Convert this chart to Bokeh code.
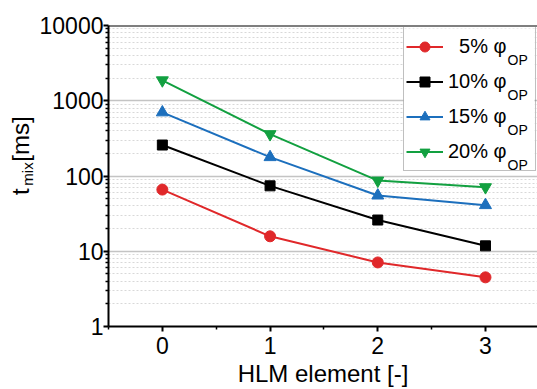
import math
from bokeh.plotting import figure
from bokeh.layouts import row
from bokeh.models import (FixedTicker, Legend, LegendItem, Label, Span, BoxAnnotation)
from bokeh.embed import file_html
from bokeh.resources import INLINE

# HLM element index
elements = [0, 1, 2, 3]

# mixing time t_mix [ms] per overpressure fraction
t_5 = [66, 15.8, 7.1, 4.5]
t_10 = [258, 74, 26, 11.8]
t_15 = [700, 178, 55, 41]
t_20 = [1870, 360, 87, 71]

series_labels = ["\u20075% \u03c6", "10% \u03c6", "15% \u03c6", "20% \u03c6"]
y_major = [1, 10, 100, 1000, 10000]
y_major_labels = ["1", "10", "100", "1000", "10000"]

FONT = "Liberation Sans"
W, H = 537, 389
TITLE_W = 36          # narrow strip holding the rotated y title
FRAME_LEFT = 108      # frame left edge on the page
FRAME_TOP, FRAME_BOTTOM = 25, 327

# ---- y title strip -------------------------------------------------------
yt = figure(width=TITLE_W, height=H, x_range=(0, TITLE_W), y_range=(0, H),
            output_backend="svg", toolbar_location=None,
            x_axis_location=None, y_axis_location=None,
            min_border=0)
yt.outline_line_color = None
yt.grid.visible = False
title_parts = [("t", 24, 20, 219), ("mix", 15, 27, 207), ("[ms]", 24, 20, 176)]
for txt, fs, bx, by in title_parts:
    yt.add_layout(Label(x=bx, y=H - by, text=txt, angle=math.pi / 2,
                        text_font=FONT, text_font_size=f"{fs}px",
                        text_color="black", text_baseline="alphabetic",
                        text_align="left"))

# ---- main plot -----------------------------------------------------------
p = figure(width=W - TITLE_W, height=H, y_axis_type="log",
           x_range=(-0.5, 3.483), y_range=(1, 10000),
           output_backend="svg", toolbar_location=None,
           min_border_left=FRAME_LEFT - TITLE_W, min_border_right=0,
           min_border_top=FRAME_TOP, min_border_bottom=H - FRAME_BOTTOM)
p.outline_line_color = None
p.background_fill_color = "white"

minor_y = [m * 10 ** k for k in range(4) for m in range(2, 10)]
p.yaxis.ticker = FixedTicker(ticks=y_major, minor_ticks=minor_y)
p.yaxis.major_label_overrides = {v: s for v, s in zip(y_major, y_major_labels)}
p.xaxis.ticker = FixedTicker(ticks=elements, minor_ticks=[-0.5, 0.5, 1.5, 2.5, 3.5])

for ax in (p.xaxis[0], p.yaxis[0]):
    ax.axis_line_width = 2
    ax.axis_line_color = "black"
    ax.major_tick_line_color = "black"
    ax.major_tick_line_width = 2
    ax.major_tick_out = 5
    ax.major_tick_in = 0
    ax.minor_tick_line_color = "black"
    ax.minor_tick_line_width = 1.5
    ax.minor_tick_out = 3
    ax.minor_tick_in = 0
    ax.major_label_text_font = FONT
    ax.major_label_text_font_size = "23px"
    ax.major_label_text_color = "black"

p.yaxis.major_label_standoff = 0
p.xaxis.major_label_standoff = 5
p.xaxis.axis_label = "HLM element [-]"
p.xaxis.axis_label_text_font = FONT
p.xaxis.axis_label_text_font_size = "24px"
p.xaxis.axis_label_text_font_style = "normal"
p.xaxis.axis_label_text_color = "black"
p.xaxis.axis_label_standoff = 3

# grids
p.xgrid.grid_line_color = None
p.ygrid.ticker = FixedTicker(ticks=[10, 100, 1000], minor_ticks=minor_y)
p.ygrid.grid_line_color = "#c4c4c4"
p.ygrid.grid_line_width = 1.5
p.ygrid.minor_grid_line_color = "#d8d8d8"
p.ygrid.minor_grid_line_dash = "2 2"
p.ygrid.minor_grid_line_width = 1

# top frame line
p.add_layout(Span(location=10000, dimension="width", line_color="black", line_width=2))

# legend box geometry (frame-relative screen units)
LEG_X, LEG_Y = 295, 155
LEG_W, LEG_H = 131, 143
# white panel behind the legend, drawn over the grid
p.add_layout(BoxAnnotation(left=LEG_X, right=LEG_X + LEG_W,
                           bottom=LEG_Y, top=LEG_Y + LEG_H,
                           left_units="screen", right_units="screen",
                           bottom_units="screen", top_units="screen",
                           fill_color="white", fill_alpha=1, line_color=None,
                           level="underlay"))

styles = [
    (t_5, "#e0282a", "circle", 11),
    (t_10, "black", "square", 10),
    (t_15, "#1c6fbd", "triangle", 12),
    (t_20, "#12a040", "inverted_triangle", 12),
]

items = []
for (vals, color, marker, size), lab in zip(styles, series_labels):
    r1 = p.line(elements, vals, line_color=color, line_width=2)
    r2 = p.scatter(elements, vals, marker=marker, size=size,
                   fill_color=color, line_color=color)
    items.append(LegendItem(label=lab, renderers=[r1, r2]))

legend = Legend(items=items, location=(LEG_X, LEG_Y),
                glyph_width=37, glyph_height=25, label_height=34,
                label_width=85, label_standoff=5, spacing=1, padding=2,
                margin=0, border_line_color="#808080", border_line_width=1,
                label_text_font=FONT, label_text_font_size="20px",
                label_text_color="black", background_fill_alpha=0)
p.add_layout(legend)

# subscripts of the legend labels
for i in range(4):
    p.add_layout(Label(x=507 - FRAME_LEFT, y=FRAME_BOTTOM - (60 + 35 * i),
                       x_units="screen", y_units="screen",
                       text="OP", text_font=FONT, text_font_size="14px",
                       text_color="black", text_baseline="alphabetic"))

layout = row(yt, p, spacing=0)
open("out.html", "w").write(file_html(layout, INLINE))
